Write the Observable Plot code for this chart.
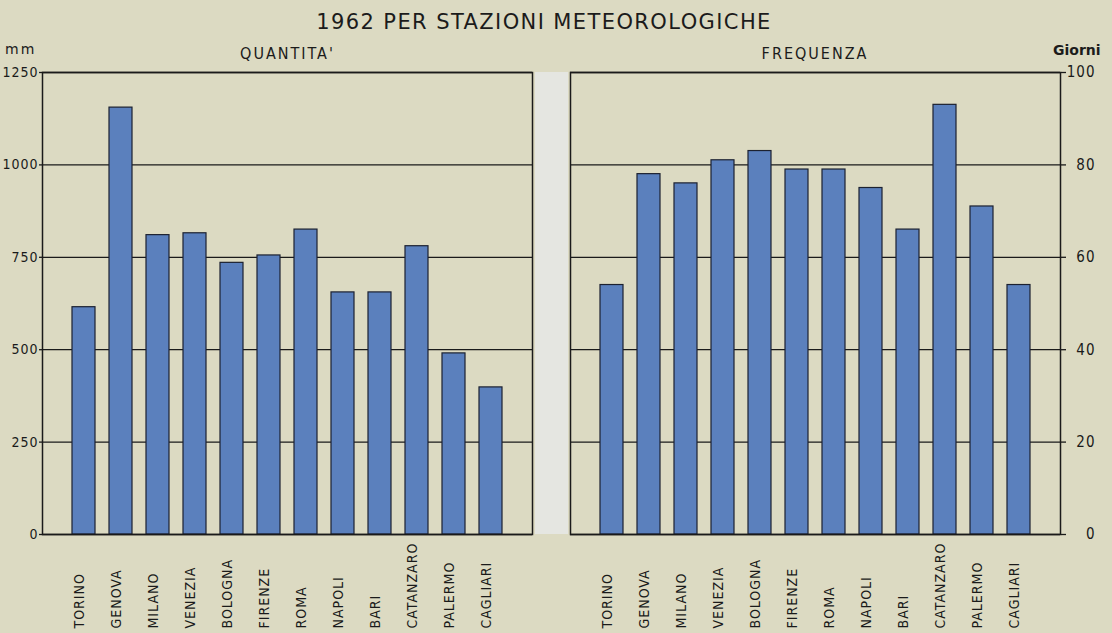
<!DOCTYPE html>
<html>
<head>
<meta charset="utf-8">
<script src="https://cdn.jsdelivr.net/npm/d3@7"></script>
<script src="https://cdn.jsdelivr.net/npm/@observablehq/plot@0.6"></script>
<style>
  html, body { margin: 0; padding: 0; background: #dcdac2; }
  #wrap { position: relative; width: 1112px; height: 633px; overflow: hidden; background: #dcdac2; color: #1b1b1b; font-family: "DejaVu Sans", sans-serif; }
  .abs { position: absolute; white-space: nowrap; }
  #title { left: 0; width: 1088px; top: 12px; text-align: center; font-size: 21px; line-height: 20px; letter-spacing: 1.4px; }
  .sub { font-family: "DejaVu Sans Condensed", "DejaVu Sans", sans-serif; font-stretch: condensed; font-size: 16px; line-height: 16px; letter-spacing: 2px; top: 46px; text-align: center; }
  #q { left: 42px; width: 491px; }
  #f { left: 570px; width: 490px; }
  #mm { left: 5px; top: 42px; font-size: 14px; line-height: 15px; letter-spacing: 2px; }
  #giorni { left: 1053px; top: 43px; font-size: 14px; line-height: 14px; font-weight: bold; }
  #strip { left: 535px; top: 72px; width: 33px; height: 462px; background: #e5e6e1; }
  #left { left: 0; top: 62px; }
  #right { left: 552px; top: 62px; }
  svg text { letter-spacing: 1px; }
</style>
</head>
<body>
<div id="wrap">
  <div class="abs" id="strip"></div>
  <div class="abs" id="title"></div>
  <div class="abs sub" id="q"></div>
  <div class="abs sub" id="f"></div>
  <div class="abs" id="mm"></div>
  <div class="abs" id="giorni"></div>
  <div class="abs" id="left"></div>
  <div class="abs" id="right"></div>
</div>
<script>
// ---- data ----
const titleText = "1962 PER STAZIONI METEOROLOGICHE";
const leftTitle = "QUANTITA'";
const rightTitle = "FREQUENZA";
const leftUnit = "mm";
const rightUnit = "Giorni";
const stations = ["TORINO", "GENOVA", "MILANO", "VENEZIA", "BOLOGNA", "FIRENZE", "ROMA", "NAPOLI", "BARI", "CATANZARO", "PALERMO", "CAGLIARI"];
const quantita = [615, 1155, 810, 815, 735, 755, 825, 655, 655, 780, 490, 398];
const frequenza = [54, 78, 76, 81, 83, 79, 79, 75, 66, 93, 71, 54];
const leftTicks = [0, 250, 500, 750, 1000, 1250];
const rightTicks = [0, 20, 40, 60, 80, 100];

document.getElementById("title").textContent = titleText;
document.getElementById("q").textContent = leftTitle;
document.getElementById("f").textContent = rightTitle;
document.getElementById("mm").textContent = leftUnit;
document.getElementById("giorni").textContent = rightUnit;

const table = stations.map((s, i) => ({station: s, mm: quantita[i], days: frequenza[i]}));

const ink = "#1a1a1a";
const barFill = "#5b80bd";
const font = '"DejaVu Sans Condensed", "DejaVu Sans", sans-serif';

function panel({value, domain, ticks, anchor, width, marginLeft, marginRight}) {
  const axis = anchor === "left"
    ? Plot.axisY({ticks, label: null, tickSize: 3, tickPadding: 1, tickFormat: d => String(d), fontSize: 14, stroke: ink, strokeWidth: 1.3, fill: ink})
    : Plot.axisY({anchor: "right", ticks, label: null, tickSize: 5, tickPadding: 30, textAnchor: "end", tickFormat: d => String(d), fontSize: 15, stroke: ink, strokeWidth: 1.3, fill: ink});
  return Plot.plot({
    width,
    height: 571,
    marginTop: 10,
    marginBottom: 99,
    marginLeft,
    marginRight,
    style: {background: "transparent", fontFamily: font, fontStretch: "condensed", fontSize: "14px", color: ink, overflow: "visible"},
    x: {domain: stations, paddingInner: 0.39, paddingOuter: 0.65, axis: null},
    y: {domain, axis: null},
    marks: [
      Plot.gridY(ticks, {stroke: ink, strokeOpacity: 1, strokeWidth: 1.3}),
      Plot.barY(table, {x: "station", y: value, fill: barFill, stroke: "#1c2130", strokeWidth: 1.2}),
      Plot.frame({stroke: ink, strokeWidth: 1.5}),
      axis,
      Plot.text(table, {x: "station", text: "station", frameAnchor: "bottom", rotate: -90, textAnchor: "start", dy: 94, fontSize: 14, fill: ink})
    ]
  });
}

document.getElementById("left").append(panel({value: "mm", domain: [0, 1250], ticks: leftTicks, anchor: "left", width: 552, marginLeft: 42, marginRight: 20}));
document.getElementById("right").append(panel({value: "days", domain: [0, 100], ticks: rightTicks, anchor: "right", width: 560, marginLeft: 18, marginRight: 52}));
</script>
</body>
</html>
